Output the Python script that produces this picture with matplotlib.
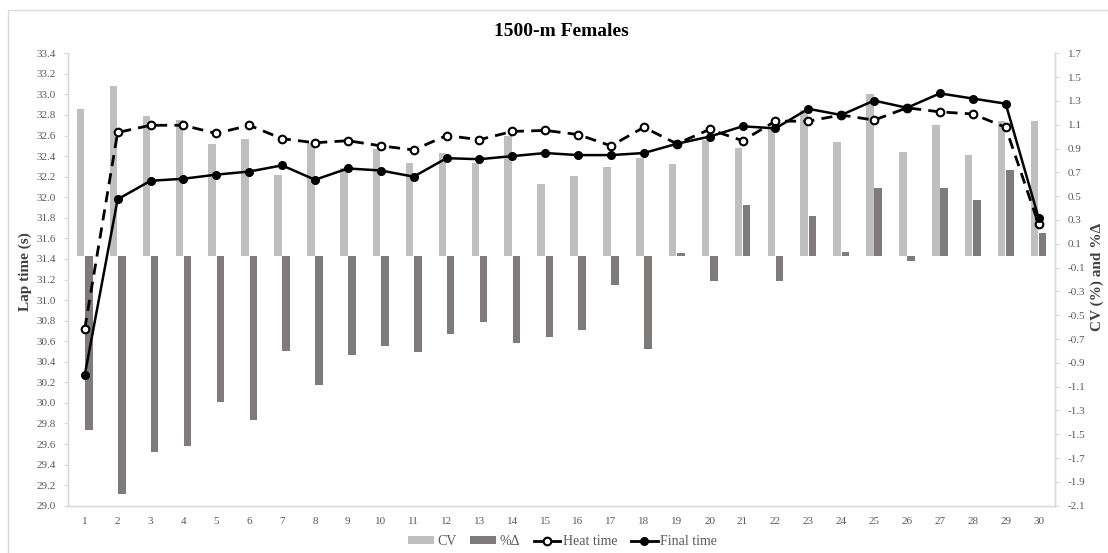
import matplotlib
matplotlib.use("Agg")
import matplotlib.pyplot as plt
import numpy as np
from matplotlib.lines import Line2D
from matplotlib.patches import Patch, Rectangle

plt.rcParams['font.family'] = ['Liberation Serif', 'DejaVu Serif']

# Lap number
laps = list(range(1, 31))

# Coefficient of variation (%) per lap
cv = [1.23, 1.425, 1.176, 1.14, 0.936, 0.978, 0.68, 0.95, 0.74, 0.896,
      0.779, 0.863, 0.779, 1.008, 0.60, 0.667, 0.748, 0.818, 0.768, 0.972,
      0.907, 1.07, 1.22, 0.955, 1.356, 0.874, 1.095, 0.846, 1.129, 1.129]

# Percentage change between heat and final per lap
pct_delta = [-1.46, -2.00, -1.649, -1.596, -1.229, -1.378, -0.80, -1.086, -0.834, -0.759,
             -0.809, -0.655, -0.56, -0.731, -0.686, -0.62, -0.246, -0.784, 0.02, -0.21,
             0.428, -0.21, 0.333, 0.03, 0.571, -0.045, 0.571, 0.47, 0.722, 0.188]

# Mean lap times (s)
heat_time = [30.72, 32.63, 32.70, 32.70, 32.62, 32.70, 32.57, 32.53, 32.55, 32.50,
             32.46, 32.60, 32.56, 32.64, 32.65, 32.61, 32.50, 32.68, 32.52, 32.66,
             32.55, 32.74, 32.74, 32.80, 32.75, 32.87, 32.83, 32.81, 32.68, 31.74]
final_time = [30.27, 31.98, 32.16, 32.18, 32.22, 32.25, 32.31, 32.17, 32.28, 32.26,
              32.20, 32.38, 32.37, 32.40, 32.43, 32.41, 32.41, 32.43, 32.52, 32.59,
              32.69, 32.67, 32.86, 32.80, 32.94, 32.87, 33.01, 32.96, 32.91, 31.80]

left_ticks = np.round(np.arange(29.0, 33.41, 0.2), 1)
right_ticks = np.round(np.arange(-2.1, 1.71, 0.2), 1)

W, H = 1108, 553
fig = plt.figure(figsize=(W / 100, H / 100), dpi=100)
fig.patch.set_facecolor('white')

# chart area border
fig.add_artist(Rectangle((8 / W, -0.05), 1.2, (H - 10) / H + 0.05,
                         transform=fig.transFigure, fill=False,
                         edgecolor='#D9D9D9', linewidth=1.0, zorder=0))

ax_bar = fig.add_axes([68.3 / W, (H - 505.7) / H, (1055 - 68.3) / W, (505.7 - 53.3) / H])
ax_line = ax_bar.twinx()

tick_color = '#595959'
spine_color = '#D9D9D9'

x = np.array(laps, dtype=float)
bw = 0.23
ax_bar.bar(x - 0.125, cv, width=bw, color='#BFBFBF', zorder=2)
ax_bar.bar(x + 0.125, pct_delta, width=bw, color='#807B7B', zorder=2)

ax_line.plot(x, heat_time, color='black', linewidth=2.0, linestyle=(0, (4, 2.6)),
             marker='o', markersize=5.5, markerfacecolor='white',
             markeredgecolor='black', markeredgewidth=1.5, zorder=3)
ax_line.plot(x, final_time, color='black', linewidth=1.8, linestyle='-',
             marker='o', markersize=5.5, markerfacecolor='black',
             markeredgecolor='black', zorder=3)

ax_bar.set_xlim(0.5, 30.5)
ax_bar.set_ylim(-2.1, 1.7)
ax_line.set_ylim(29.0, 33.4)

# bars use the right-hand scale, lap times the left-hand one
ax_bar.yaxis.tick_right()
ax_line.yaxis.tick_left()
ax_bar.set_yticks(right_ticks)
ax_bar.set_yticklabels([f"{v:.1f}" for v in right_ticks])
ax_line.set_yticks(left_ticks)
ax_line.set_yticklabels([f"{v:.1f}" for v in left_ticks])
ax_bar.set_xticks(laps)
ax_bar.set_xticklabels([str(v) for v in laps])

for a in (ax_bar, ax_line):
    a.spines['top'].set_visible(False)
    for s in ('left', 'right', 'bottom'):
        a.spines[s].set_color(spine_color)
        a.spines[s].set_linewidth(1.0)
    a.tick_params(axis='y', colors=spine_color, labelcolor=tick_color,
                  labelsize=8, length=3, width=0.8, pad=6)
ax_bar.tick_params(axis='x', length=0, labelcolor=tick_color, labelsize=8, pad=8)
ax_bar.patch.set_visible(False)

fig.text(25 / W, (H - 271.7) / H, 'Lap time (s)', rotation=90, ha='center',
         va='center', fontsize=11, fontweight='bold', color='#404040')
fig.text(1097 / W, (H - 277) / H, 'CV (%) and %Δ', rotation=90, ha='center',
         va='center', fontsize=11, fontweight='bold', color='#404040')
fig.text(561.5 / W, (H - 31) / H, '1500-m Females', ha='center', va='center',
         fontsize=14, fontweight='bold', color='black')

handles = [
    Patch(facecolor='#BFBFBF', edgecolor='none', label='CV'),
    Patch(facecolor='#807B7B', edgecolor='none', label='%Δ'),
    Line2D([], [], color='black', linewidth=2.0, marker='o', markersize=5.5,
           markerfacecolor='white', markeredgecolor='black', markeredgewidth=1.5,
           label='Heat time'),
    Line2D([], [], color='black', linewidth=2.0, marker='o', markersize=5.5,
           markerfacecolor='black', label='Final time'),
]
leg = fig.legend(handles=handles, loc='center', bbox_to_anchor=(562.5 / W, (H - 541.7) / H),
                 ncol=4, frameon=False, fontsize=10, handlelength=1.9, handleheight=0.55,
                 handletextpad=0.2, columnspacing=1.0)
for t in leg.get_texts():
    t.set_color(tick_color)

fig.savefig('out.png', dpi=100, facecolor='white')
